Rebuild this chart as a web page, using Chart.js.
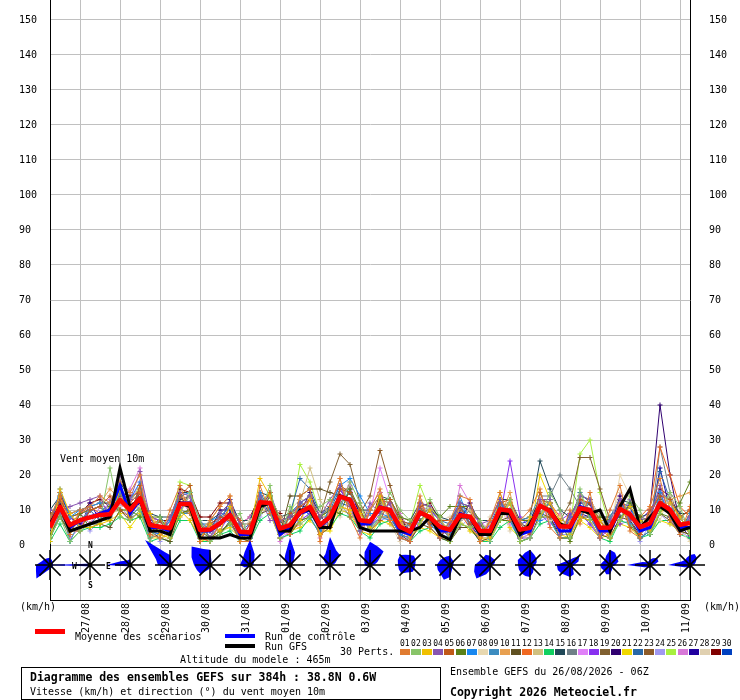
<!DOCTYPE html>
<html>
<head>
<meta charset="utf-8">
<script src="https://cdn.jsdelivr.net/npm/chart.js@4/dist/chart.umd.min.js"></script>
<style>
  html, body { margin: 0; padding: 0; background: #fff; }
  #wrap { position: relative; width: 740px; height: 700px; overflow: hidden;
          font-family: "DejaVu Sans Mono", "Liberation Mono", monospace; font-size: 10px; color: #000; }
  #wrap canvas { position: absolute; left: 0; top: 0; }
  .t { position: absolute; white-space: nowrap; line-height: 10px; }
  .b { font-weight: bold; font-size: 11.5px; line-height: 12px; }
  .bar { position: absolute; width: 30px; }
  .small { font-size: 8px; line-height: 8px; }
  .rl { position: absolute; font-size: 8px; line-height: 8px; font-weight: bold; }
  #box { position: absolute; left: 21px; top: 667px; width: 420px; height: 33px;
         border: 1px solid #000; box-sizing: border-box; }
</style>
</head>
<body>
<div id="wrap">
  <canvas id="chart" width="740" height="700"></canvas>

  <div class="t" style="left:60px;top:454px">Vent moyen 10m</div>
  <div class="rl" style="left:88px;top:542px">N</div>
  <div class="rl" style="left:88px;top:582px">S</div>
  <div class="rl" style="left:72px;top:563px">W</div>
  <div class="rl" style="left:106px;top:563px">E</div>

  <div class="t" style="left:20px;top:602px">(km/h)</div>
  <div class="t" style="left:704px;top:602px">(km/h)</div>

  <div class="bar" style="left:35px;top:629px;height:5px;background:#ff0000"></div>
  <div class="t" style="left:75px;top:632px">Moyenne des scénarios</div>
  <div class="bar" style="left:225px;top:634px;height:4px;background:#0000ff"></div>
  <div class="t" style="left:265px;top:632px">Run de contrôle</div>
  <div class="bar" style="left:225px;top:644px;height:4px;background:#000"></div>
  <div class="t" style="left:265px;top:642px">Run GFS</div>
  <div class="t" style="left:340px;top:647px">30 Perts.</div>
  <div class="t" style="left:180px;top:655px">Altitude du modele : 465m</div>
  <div id="perts"></div>

  <div id="box"></div>
  <div class="t b" style="left:30px;top:671px">Diagramme des ensembles GEFS sur 384h : 38.8N 0.6W</div>
  <div class="t" style="left:30px;top:687px">Vitesse (km/h) et direction (°) du vent moyen 10m</div>
  <div class="t" style="left:450px;top:667px">Ensemble GEFS du 26/08/2026 - 06Z</div>
  <div class="t b" style="left:450px;top:686px">Copyright 2026 Meteociel.fr</div>
</div>

<script>
// Forecast hours (every 6 h from 26/08 06Z to 11/09 06Z)
const stepHours = [0,6,12,18,24,30,36,42,48,54,60,66,72,78,84,90,96,102,108,114,
  120,126,132,138,144,150,156,162,168,174,180,186,192,198,204,210,216,222,228,234,
  240,246,252,258,264,270,276,282,288,294,300,306,312,318,324,330,336,342,348,354,
  360,366,372,378,384];

// Day ticks (00Z) and their labels
const dayTicks = [18,42,66,90,114,138,162,186,210,234,258,282,306,330,354,378];
const dayLabels = ["27/08","28/08","29/08","30/08","31/08","01/09","02/09","03/09",
  "04/09","05/09","06/09","07/09","08/09","09/09","10/09","11/09"];

const speedTicks = [0,10,20,30,40,50,60,70,80,90,100,110,120,130,140,150];

// Wind speed, km/h
const meanSpeed = [5,10.9,5.7,7.1,7.9,8.6,8.8,12.9,10,13.4, 5.7,5.2,4.8,11.7,11.7,4.3,4.4,6.2,8.6,3.8,
  3.6,12.2,12,4.7,5.7,9.3,10.9,5.7,8,13.8, 12.9,7.1,6.7,10.7,10,5.2,3.8,9.3,7.9,5.2,
  4.3,8.5,8.1,4.1,4,10.2,9.8,4.4,4.9,11.2, 9.7,5.3,5.3,10.5,10,4.9,5,10.3,8.7,5.1, 6.2,12,10.1,5.8,6.3];
const controlSpeed = [6,11,5,7,8,9,10,17,9,13, 5,5,4,12,12,4,4,6,9,3, 3,12,12,3,5,9,10,5,8,14,
  13,6,6,11,10,4,3,9,8,4, 4,9,8,3,3,10,10,3,4,11, 10,4,4,11,10,4,4,10,9,4, 5,12,10,5,5];
const gfsSpeed = [6,11,4,5,6,7,8,22,11,13, 4,4,3,12,11,2,2,2,3,2, 2,11,12,4,4,10,10,5,5,14,
  13,5,4,4,4,4,4,5,8,3, 1.5,8,8,3,3,9,9,3,6,11, 10,6,5,10,9,10,4,11,16,5, 8,11,9,4,5];

const p01 = [8,14,3,10,11,14,12,18,15,20, 3,2,10,17,9,1,7,11,14,1, 1,17,9,8,3,14,16,1,11,19, 8,2,10,16,7,2,1,14,5,2, 7,14,13,1,7,15,7,7,10,16, 5,2,10,6,15,2,10,17,4,2, 11,19,7,3,11];
const p02 = [2,8,1,4,6,7,22,8,7,10, 1,8,2,9,15,7,1,3,6,9, 1,9,17,2,11,6,8,11,13,11, 18,12,4,8,15,10,7,6,13,8, 1,6,5,7,1,7,13,1,2,8, 15,10,2,16,7,10,2,7,14,10, 3,9,15,11,3];
const p03 = [1,16,9,5,5,6,7,16,7,10, 9,3,2,10,7,2,6,4,11,1, 4,19,14,3,4,7,13,3,6,11, 10,9,5,14,7,7,2,6,10,3, 1,6,5,2,2,7,12,1,8,8, 12,7,3,8,7,7,2,7,11,7, 4,9,12,8,3];
const p04 = [10,9,11,12,13,14,7,20,13,21, 8,3,8,15,14,7,2,9,12,6, 1,14,7,7,8,12,14,8,13,17, 11,4,12,9,12,2,1,12,11,2, 6,12,11,6,7,13,8,2,2,13, 13,3,8,14,13,2,7,13,7,7, 8,17,8,3,8];
const p05 = [7,13,4,4,10,11,14,10,8,17, 3,7,2,14,17,1,6,8,7,1, 6,10,15,2,9,11,13,3,5,16, 15,10,4,7,13,7,6,11,6,7, 7,11,6,6,2,12,13,6,3,15, 8,7,3,13,12,7,3,12,5,3, 10,14,13,8,10];
const p06 = [3,8,3,9,5,6,11,10,10,8, 8,8,3,9,10,6,2,4,6,6, 2,9,14,7,3,7,8,8,10,9, 16,10,5,13,13,8,7,7,10,8, 11,11,11,7,2,7,7,7,7,8, 8,7,1,8,7,8,7,7,12,8, 3,9,8,12,18];
const p07 = [5,16,8,10,11,12,7,15,13,18, 4,3,7,14,15,2,7,8,11,2, 2,15,10,3,9,12,14,4,11,17, 19,14,9,9,8,3,2,11,6,3, 2,14,6,6,1,13,7,2,7,7, 13,3,8,8,13,2,7,7,12,2, 4,15,8,8,3];
const p08 = [3,11,6,5,8,6,12,11,12,11, 6,2,7,9,14,6,2,9,7,4, 7,9,12,8,6,6,13,9,6,10, 10,9,4,8,13,8,7,6,11,3, 6,6,11,7,2,7,13,6,2,14, 7,8,2,8,13,8,3,20,14,5, 8,7,15,4,1];
const p09 = [8,13,1,7,10,7,12,16,8,11, 1,8,5,9,9,7,4,9,6,2, 2,14,9,8,3,12,8,3,11,11, 16,4,5,8,7,2,7,6,11,2, 7,12,5,7,1,13,7,7,8,14, 7,2,8,13,8,3,8,13,6,7, 3,15,13,3,9];
const p10 = [5,11,9,10,11,12,16,13,13,16, 9,5,8,15,10,4,7,11,14,2, 4,15,9,2,9,12,14,3,11,19, 10,4,10,14,7,8,1,12,5,8, 2,11,11,1,7,8,15,2,8,8, 13,2,7,14,7,2,8,7,12,3, 9,15,13,14,15];
const p11 = [2,8,4,5,6,6,5,10,7,10, 4,2,1,9,10,4,2,3,7,2, 1,9,10,3,14,14,16,16,15,14, 11,5,4,8,8,3,1,6,5,2, 1,5,5,1,2,7,8,1,2,9, 8,2,2,8,8,3,2,8,7,2, 4,9,7,4,3];
const p12 = [7,15,6,9,11,9,11,15,12,15, 6,7,5,14,12,2,1,6,11,7, 1,12,15,5,4,6,14,6,5,16, 16,5,7,13,12,2,4,12,8,2, 6,9,5,2,7,13,8,4,3,13, 12,8,5,9,13,5,2,13,9,8, 11,28,20,11,8];
const p13 = [5,9,8,7,10,11,9,10,10,11, 8,5,2,12,15,4,7,4,6,6, 6,9,14,8,6,12,22,13,8,11, 10,10,9,8,13,5,6,6,11,7, 4,12,10,4,6,7,13,4,5,9, 13,5,7,14,10,7,5,12,6,5, 6,9,13,8,6];
const p14 = [1,6,1,4,5,5,6,8,7,8, 1,2,1,7,7,1,1,3,4,1, 1,7,9,2,3,4,8,3,5,9, 8,4,2,6,7,2,1,4,5,2, 1,6,5,1,1,5,7,1,2,6, 7,2,2,8,7,2,1,7,6,2, 3,7,7,3,2];
const p15 = [10,14,9,10,11,12,12,18,13,16, 9,8,8,15,15,7,7,9,12,7, 7,15,14,8,9,12,14,9,11,17, 15,10,10,14,13,8,7,12,11,8, 7,12,11,7,7,13,13,7,8,24, 16,10,8,14,13,8,8,13,12,8, 9,15,13,9,9];
const p16 = [3,9,4,5,8,9,7,15,8,11, 2,3,8,10,9,7,2,8,11,4, 7,14,9,3,8,7,8,8,11,12, 8,9,4,13,8,8,2,11,5,7, 2,7,10,7,2,12,7,7,3,14, 14,20,16,11,9,3,7,8,11,7, 4,28,15,6,7];
const p17 = [7,13,4,9,6,11,11,13,12,18, 4,5,7,12,10,6,4,8,7,4, 2,10,14,2,4,11,13,3,10,12, 18,4,9,22,13,2,2,11,10,2, 7,7,8,7,4,12,6,2,3,13, 6,5,7,13,10,2,7,10,9,5, 8,12,10,3,8];
const p18 = [8,8,8,5,10,7,11,11,12,11, 8,7,3,10,14,2,6,4,9,2, 6,10,15,7,4,7,9,9,6,16, 11,9,5,9,12,7,1,7,10,7, 1,11,6,1,6,8,24,8,5,9, 6,7,9,9,6,2,5,6,13,7, 10,15,8,8,3];
const p19 = [3,13,8,9,10,7,11,14,8,15, 8,3,7,14,9,6,2,8,11,6, 2,13,10,7,8,11,13,8,18,26, 23,12,6,12,8,4,3,10,7,4, 3,10,6,3,3,11,12,3,4,12, 10,7,12,25,25,16,7,11,8,4, 5,13,9,5,5];
const p20 = [7,13,8,6,10,11,8,15,9,12, 7,3,4,13,14,3,4,10,10,2, 2,13,9,7,8,9,15,8,6,16, 11,5,9,9,12,7,4,12,6,5, 4,7,12,6,3,12,8,2,7,13, 8,3,7,12,12,3,5,14,7,3, 10,40,20,6,2];
const p21 = [2,15,4,5,6,7,7,9,5,9, 2,2,3,8,10,1,2,4,5,2, 1,10,10,3,4,5,7,4,4,10, 9,4,3,7,6,3,2,5,4,2, 2,7,4,2,1,15,5,2,3,20, 13,3,2,7,5,2,3,6,5,2, 4,7,6,4,3];
const p22 = [7,12,4,9,6,9,12,15,10,15, 4,7,3,14,12,6,6,6,11,4, 6,12,14,5,9,19,16,9,10,16, 15,7,7,13,10,7,6,11,10,7, 6,11,8,4,6,12,10,4,7,13, 12,3,5,15,12,5,7,12,9,5, 6,21,13,8,6];
const p23 = [9,11,6,7,10,11,11,15,10,15, 6,7,5,12,14,4,6,8,9,4, 4,14,12,7,8,9,13,8,8,14, 13,9,14,27,17,8,4,9,8,5, 2,11,10,6,4,12,8,6,3,13, 12,3,7,9,12,7,3,12,7,3, 9,14,8,4,9];
const p24 = [3,9,6,7,4,7,9,11,8,9, 6,1,5,8,10,6,2,6,7,1, 4,8,12,3,6,7,9,4,8,10, 9,7,5,7,8,3,4,7,6,3, 4,5,8,2,2,8,10,2,5,7, 8,3,3,9,6,3,5,6,7,1, 6,9,6,4,2];
const p25 = [7,13,8,9,10,11,11,15,12,17, 8,7,5,18,17,4,4,6,9,4, 4,12,12,5,6,23,18,9,8,14, 13,7,7,11,10,5,6,17,10,5, 6,7,10,6,4,12,8,2,7,13, 10,5,5,26,30,15,5,12,9,7, 4,10,10,8,4];
const p26 = [8,9,2,5,10,7,13,11,16,22, 4,7,3,10,14,2,6,8,7,6, 8,12,14,1,4,11,13,2,12,14, 17,3,11,15,6,9,4,11,6,7, 2,17,12,6,2,8,12,6,3,13, 6,9,3,13,10,7,3,14,5,7, 10,12,12,4,8];
const p27 = [5,15,8,5,12,7,9,17,8,17, 4,3,7,14,10,6,2,6,13,6, 2,14,10,7,4,7,13,4,6,16, 15,9,5,13,12,3,2,9,10,3, 6,11,6,2,6,8,12,6,3,13, 12,3,9,9,8,7,5,12,11,3, 6,22,10,8,4];
const p28 = [2,13,3,9,6,11,7,13,8,9, 8,3,1,12,14,6,2,8,11,2, 1,10,12,3,10,13,13,4,10,8, 13,11,3,13,6,1,6,13,10,7, 8,11,4,2,8,12,4,8,7,9, 10,7,1,15,8,9,7,15,13,7, 4,14,14,10,4];
const p29 = [7,13,8,9,12,13,11,15,14,15, 8,7,7,16,15,8,8,12,12,6, 8,14,10,9,4,13,13,8,10,12, 15,9,5,15,8,9,2,11,12,7, 4,11,10,2,4,10,12,6,5,13, 10,5,7,11,8,7,3,10,11,7, 8,16,14,8,10];
const p30 = [3,13,4,9,10,11,9,11,12,15, 4,7,5,10,14,2,6,8,7,6, 6,10,14,3,6,11,11,6,6,12, 11,7,9,9,12,3,6,9,10,7, 2,9,10,6,2,10,8,6,7,9, 12,3,7,9,12,3,7,8,11,5, 8,10,14,4,8];

const pertSpeeds = [p01,p02,p03,p04,p05,p06,p07,p08,p09,p10,p11,p12,p13,p14,p15,
  p16,p17,p18,p19,p20,p21,p22,p23,p24,p25,p26,p27,p28,p29,p30];
const pertNames = ["01","02","03","04","05","06","07","08","09","10","11","12","13","14","15",
  "16","17","18","19","20","21","22","23","24","25","26","27","28","29","30"];
const pertColors = ["#e07b30","#88c468","#f0c000","#8855b0","#c05818","#5a8018","#1888f0","#e8d8b0",
  "#3c8cc0","#e8a050","#605020","#f06820","#d0c080","#10d060","#204858","#708088","#e080f8",
  "#8830f0","#806030","#300070","#f0d800","#2868a8","#8c5a28","#a098f0","#a8f040","#d878d8",
  "#2000a0","#e0d0b0","#800000","#0040c0"];

// Wind direction roses, one per day at 06Z.
// Relative frequency (%) per sector: N, NNE, NE, ENE, E, ESE, SE, SSE, S, SSW, SW, WSW, W, WNW, NW, NNW
const roseHours = [0,24,48,72,96,120,144,168,192,216,240,264,288,312,336,360,384];
const roseFreq = [
  [18,13,10,8,8,8,8,8,10,15,48,38,35,23,20,18],
  [5,4,4,4,5,4,4,4,5,4,4,8,100,8,4,4],
  [15,5,5,5,5,5,5,5,5,5,5,8,58,25,15,13],
  [25,10,5,5,5,5,5,5,5,5,5,8,30,38,88,35],
  [38,10,5,5,5,5,5,5,8,13,33,35,40,50,65,43],
  [63,30,15,10,8,5,5,5,5,5,8,15,25,23,25,35],
  [68,33,13,8,5,5,5,5,8,5,5,5,8,10,20,30],
  [70,40,35,15,8,5,5,5,5,5,5,5,8,13,25,30],
  [58,50,48,20,10,5,5,5,5,5,5,8,13,15,20,35],
  [25,25,20,15,13,13,15,18,18,20,30,30,30,33,35,28],
  [23,15,13,10,8,8,8,13,30,40,33,33,33,28,25,23],
  [23,18,18,13,8,5,5,8,13,25,48,43,38,28,25,28],
  [38,28,23,18,13,10,13,20,30,30,30,30,30,33,30,33],
  [13,18,33,23,10,8,10,25,30,28,30,33,33,18,13,13],
  [38,33,25,23,13,8,8,13,23,25,20,23,25,20,18,25],
  [13,18,25,23,10,5,5,5,8,8,8,15,58,20,10,10],
  [25,30,25,15,10,5,5,5,8,8,8,15,55,23,18,20]
];

const Y_MIN = -15.71;
const Y_MAX = 155.71;
const ROSE_LEVEL = -5.71;   // axis value of the rose centres
const ROSE_PX = 0.4;        // px per % of frequency
const STAR_PX = 15;

// Legend swatches for the perturbations
const pertBox = document.getElementById("perts");
pertNames.forEach((name, i) => {
  const x = 400 + i * 11.1;
  const num = document.createElement("div");
  num.className = "t small";
  num.style.left = x + "px";
  num.style.top = "640px";
  num.textContent = name;
  pertBox.appendChild(num);
  const sw = document.createElement("div");
  sw.style.cssText = `position:absolute;left:${x}px;top:649px;width:10px;height:6px;background:${pertColors[i]}`;
  pertBox.appendChild(sw);
});

const rosePlugin = {
  id: "roses",
  afterDatasetsDraw(chart) {
    const { ctx, scales } = chart;
    const cy = scales.y.getPixelForValue(ROSE_LEVEL);
    ctx.save();
    roseHours.forEach((h, k) => {
      const cx = scales.x.getPixelForValue(h);
      ctx.beginPath();
      roseFreq[k].forEach((f, d) => {
        const a = d * Math.PI / 8;
        const r = f * ROSE_PX;
        const px = cx + r * Math.sin(a);
        const py = cy - r * Math.cos(a);
        if (d === 0) ctx.moveTo(px, py); else ctx.lineTo(px, py);
      });
      ctx.closePath();
      ctx.fillStyle = "#0000ff";
      ctx.fill();

      ctx.beginPath();
      for (let d = 0; d < 4; d++) {
        const a = d * Math.PI / 4;
        const dx = STAR_PX * Math.sin(a);
        const dy = STAR_PX * Math.cos(a);
        ctx.moveTo(cx - dx, cy + dy);
        ctx.lineTo(cx + dx, cy - dy);
      }
      ctx.strokeStyle = "#000";
      ctx.lineWidth = 1.5;
      ctx.stroke();
    });
    ctx.restore();
  }
};

const datasets = [
  { label: "Moyenne des scénarios", data: meanSpeed, borderColor: "#ff0000", borderWidth: 4.5,
    pointRadius: 0, borderJoinStyle: "round", order: 0 },
  { label: "Run GFS", data: gfsSpeed, borderColor: "#000000", borderWidth: 3,
    pointRadius: 0, order: 1 },
  { label: "Run de contrôle", data: controlSpeed, borderColor: "#0000ff", borderWidth: 3,
    pointRadius: 0, order: 2 }
];
pertSpeeds.forEach((values, i) => {
  datasets.push({
    label: "Pert " + pertNames[i],
    data: values,
    borderColor: pertColors[i],
    borderWidth: 1,
    pointStyle: "cross",
    pointRadius: 2.5,
    pointBorderWidth: 1,
    pointBorderColor: pertColors[i],
    order: 3 + i
  });
});

const fixTicks = (values) => (scale) => {
  scale.ticks = values.map((v) => ({ value: v }));
};

// left labels sit flush left at x=19, right labels start at x=709
const yAxis = (position, width, tickOpts, showGrid) => ({
  type: "linear",
  position,
  min: Y_MIN,
  max: Y_MAX,
  afterBuildTicks: fixTicks(speedTicks),
  afterFit: (scale) => { scale.width = width; scale.paddingTop = 0; scale.paddingBottom = 0; },
  ticks: Object.assign({ color: "#000", font: { size: 10 } }, tickOpts),
  grid: { display: showGrid, color: "#c0c0c0", lineWidth: 1, drawTicks: false },
  border: { display: true, color: "#000", width: 1 }
});

Chart.defaults.font.family = '"DejaVu Sans Mono", "Liberation Mono", monospace';

new Chart(document.getElementById("chart"), {
  type: "line",
  data: { labels: stepHours, datasets },
  options: {
    responsive: false,
    animation: false,
    devicePixelRatio: 1,
    layout: { padding: { left: 19, right: 0, top: 0, bottom: 0 }, autoPadding: false },
    elements: { line: { tension: 0 } },
    plugins: { legend: { display: false }, tooltip: { enabled: false } },
    scales: {
      x: {
        type: "linear",
        min: 0,
        max: 384,
        afterBuildTicks: fixTicks(dayTicks),
        afterFit: (scale) => { scale.height = 100; scale.paddingLeft = 0; scale.paddingRight = 0; },
        ticks: {
          color: "#000",
          autoSkip: false,
          minRotation: 90,
          maxRotation: 90,
          labelOffset: 6,
          padding: 3,
          font: { size: 10 },
          callback: (v, i) => dayLabels[i]
        },
        grid: { color: "#c0c0c0", lineWidth: 1, drawTicks: false },
        border: { color: "#000", width: 1 }
      },
      y: yAxis("left", 31, { crossAlign: "far", padding: 4 }, true),
      y2: yAxis("right", 50, { padding: 19 }, false)
    }
  },
  plugins: [rosePlugin]
});
</script>
</body>
</html>
